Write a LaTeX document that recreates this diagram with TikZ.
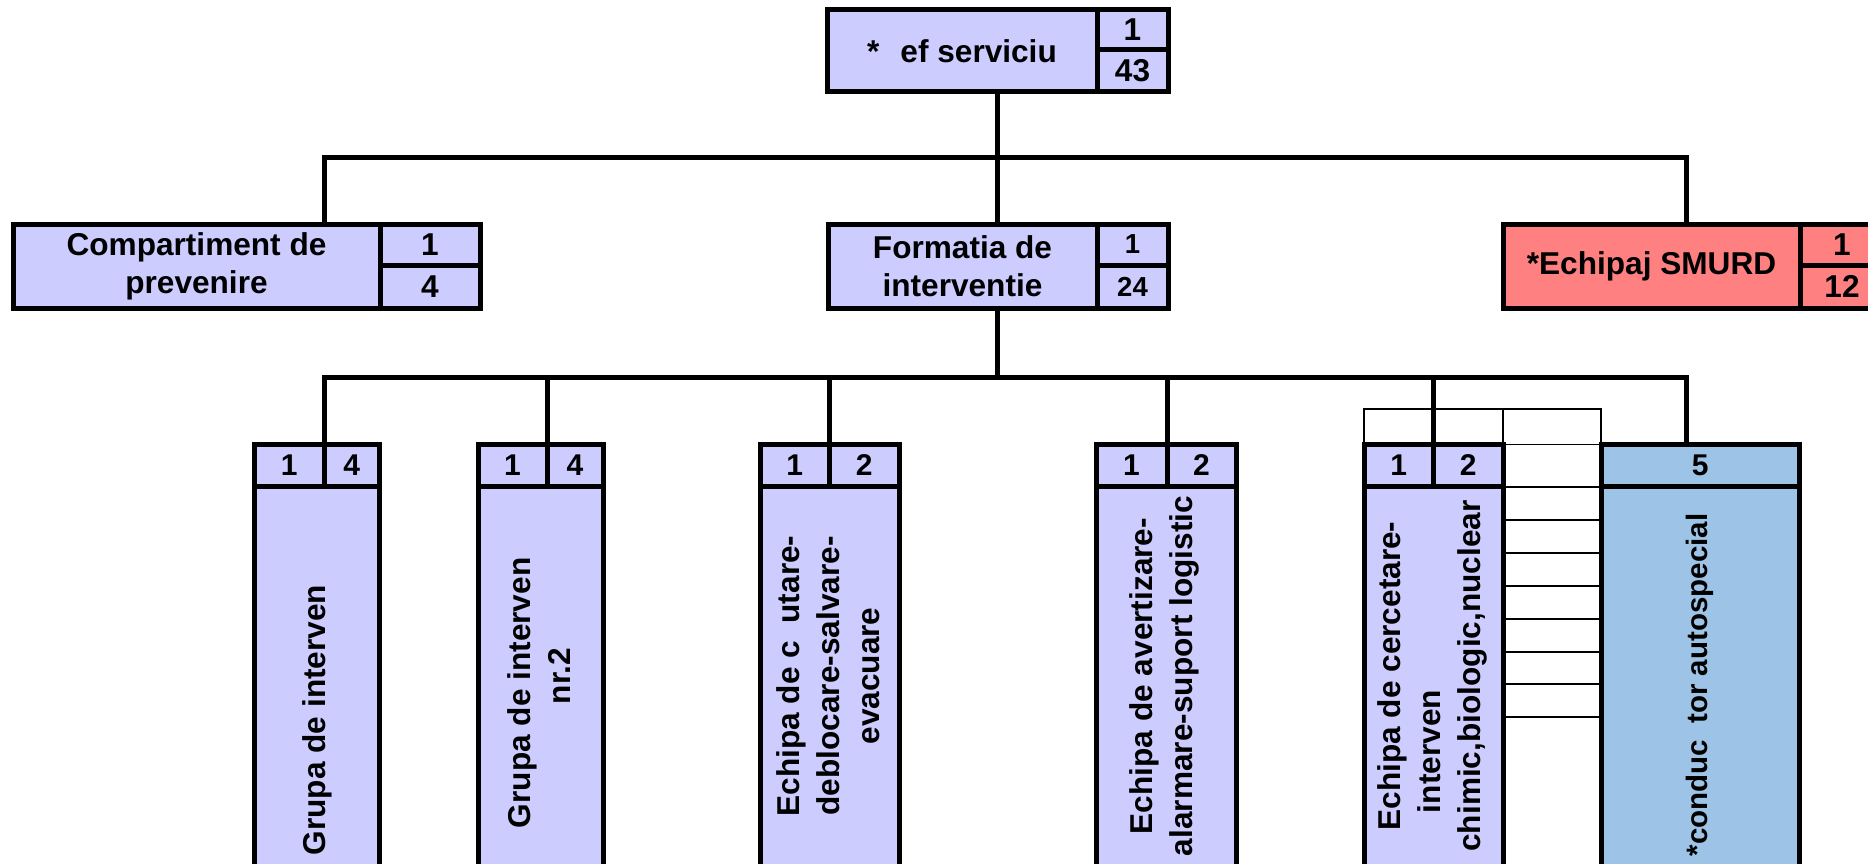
\documentclass[tikz,border=0pt]{standalone}
\usepackage{fontspec}
\setmainfont{Liberation Sans}
\usetikzlibrary{positioning}
\definecolor{lav}{RGB}{204,204,255}
\definecolor{smurdred}{RGB}{255,128,128}
\definecolor{paleblue}{RGB}{157,195,230}
\tikzset{
every cell/.style={font=\bfseries\fontsize{31.6}{38}\selectfont},
}

\begin{document}
\begin{tikzpicture}[x=1pt, y=-1pt,
                        cell/.style={draw, line width=5pt, fill=lav, inner sep=0pt, outer sep=0pt,
                                     align=center, every cell},
                        hcell/.style={cell, font=\bfseries\fontsize{30}{36}\selectfont, minimum height=41.5pt, anchor=north west},
                        vtext/.style={rotate=90, align=center, font=\bfseries\fontsize{31.6}{40}\selectfont},
                        link/.style={line width=5pt},
                        thinline/.style={line width=1.3pt},
					]
					\useasboundingbox (0,0) rectangle (1868,864);
					\clip (0,0) rectangle (1868,864);
					\fill[white] (0,0) rectangle (1868,864);
					% top level
					\node[cell, minimum width=270pt, minimum height=82pt] (sef) at (962,51) {*\hphantom{S}ef serviciu};
					\node[cell, minimum width=71pt, minimum height=40pt, anchor=north west] (sef-a) at (sef.north east) {1};
					\node[cell, minimum width=71pt, minimum height=42pt, anchor=north west] (sef-b) at (sef-a.south west) {43};
					% second level
					\node[cell, minimum width=367pt, minimum height=84pt] (comp) at (196.5,266) {Compartiment de\\prevenire};
					\node[cell, minimum width=100pt, minimum height=41pt, anchor=north west] (comp-a) at (comp.north east) {1};
					\node[cell, minimum width=100pt, minimum height=43pt, anchor=north west] (comp-b) at (comp-a.south west) {4};
					\node[cell, minimum width=269pt, minimum height=84pt] (form) at (962.5,266) {Formatia de\\interventie};
					\node[cell, minimum width=71pt, minimum height=41pt, anchor=north west,
					      font=\bfseries\fontsize{27.5}{33}\selectfont] (form-a) at (form.north east) {1};
					\node[cell, minimum width=71pt, minimum height=43pt, anchor=north west,
					      font=\bfseries\fontsize{27.5}{33}\selectfont] (form-b) at (form-a.south west) {24};
					\node[cell, fill=smurdred, minimum width=297pt, minimum height=84pt] (smurd) at (1651.5,266) {*Echipaj SMURD};
					\node[cell, fill=smurdred, minimum width=84pt, minimum height=41pt, anchor=north west] (smurd-a) at (smurd.north east) {1};
					\node[cell, fill=smurdred, minimum width=84pt, minimum height=43pt, anchor=north west] (smurd-b) at (smurd-a.south west) {12};
					% third level
					\node[hcell, minimum width=70.5pt] (g1-a) at (254,444.5) {1};
					\node[hcell, minimum width=54.5pt] (g1-b) at (g1-a.north east) {4};
					\node[hcell, minimum width=125pt, minimum height=420pt] (g1) at (g1-a.south west) {};
					\node[hcell, minimum width=69pt] (g2-a) at (478,444.5) {1};
					\node[hcell, minimum width=56pt] (g2-b) at (g2-a.north east) {4};
					\node[hcell, minimum width=125pt, minimum height=420pt] (g2) at (g2-a.south west) {};
					\node[hcell, minimum width=69.5pt] (g3-a) at (760,444.5) {1};
					\node[hcell, minimum width=69.5pt] (g3-b) at (g3-a.north east) {2};
					\node[hcell, minimum width=139pt, minimum height=420pt] (g3) at (g3-a.south west) {};
					\node[hcell, minimum width=71pt] (g4-a) at (1096,444.5) {1};
					\node[hcell, minimum width=69pt] (g4-b) at (g4-a.north east) {2};
					\node[hcell, minimum width=140pt, minimum height=420pt] (g4) at (g4-a.south west) {};
					\node[hcell, minimum width=69.5pt] (g5-a) at (1364,444.5) {1};
					\node[hcell, minimum width=69.5pt] (g5-b) at (g5-a.north east) {2};
					\node[hcell, minimum width=139pt, minimum height=420pt] (g5) at (g5-a.south west) {};
					\node[hcell, fill=paleblue, minimum width=198.5pt] (g6-h) at (1601,444.5) {5};
					\node[hcell, fill=paleblue, minimum width=198.5pt, minimum height=420pt] (g6) at (g6-h.south west) {};
					\node[vtext] (g1-t) at (317,720) {Grupa de interven};
					\node[vtext] (g2-t) at (539,676) {\makebox[304pt][l]{Grupa de interven}\\nr.2};
					\node[vtext] (g3-t) at (828,676) {Echipa de c\hphantom{a}utare-\\deblocare-salvare-\\evacuare};
					\node[vtext] (g4-t) at (1164,676) {Echipa de avertizare-\\alarmare-suport logistic};
					\node[vtext] (g5-t) at (1432,676) {Echipa de cercetare-\\\makebox[274pt][l]{interven}\\chimic,biologic,nuclear};
					\node[vtext, font=\bfseries\fontsize{29.5}{36}\selectfont] (g6-t) at (1700,685) {*conduc\hphantom{a}tor autospecial};
					% thin grid beside g5
					\draw[thinline] (g5-a.north west) ++(0,-35.5) rectangle (g6-h.north west);
					\draw[thinline] (g5-b.north east) -- ++(0,-35.5);
					\foreach \y in {487,520,553,586,619,652,684,717}
					    \draw[thinline] (1503,\y) -- (1601,\y);
					% connectors
					\coordinate (j-top) at (997,157.5);
					\coordinate (j-comp) at (324.5,157.5);
					\coordinate (j-smurd) at (1686.5,157.5);
					\coordinate (j-form) at (997,377);
					\coordinate (j-g6) at (1686,377);
					\draw[link] (sef.south -| j-top) -- (form.north -| j-top);
					\draw[link] (comp.north -| j-comp) -- (j-comp) -- (j-smurd) -- (smurd.north -| j-smurd);
					\draw[link] (form.south -| j-form) -- (j-form);
					\draw[link] (g1-a.north east) |- (j-g6) -- (g6-h.north -| j-g6);
					\foreach \g in {g2,g3,g4,g5}
					    \draw[link] (\g-a.north east) -- (\g-a.north east |- j-g6);
	\end{tikzpicture}
\end{document}
